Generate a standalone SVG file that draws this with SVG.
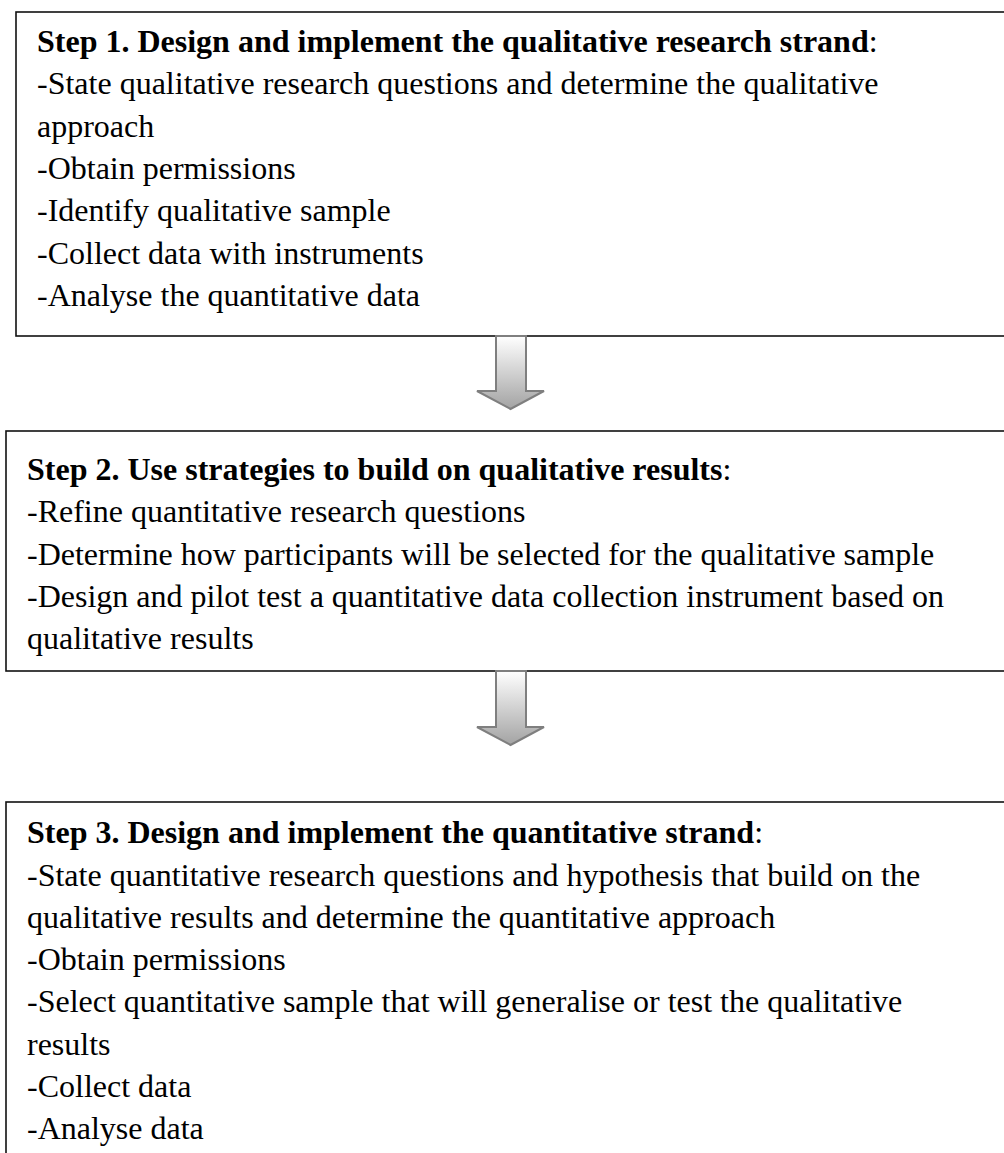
<svg xmlns="http://www.w3.org/2000/svg" width="1004" height="1153" viewBox="0 0 1004 1153">
  <style>
    .box { fill: #ffffff; stroke: #111111; stroke-width: 1.6; }
    text { font-family: "Liberation Serif", "Times New Roman", serif; font-size: 32px; fill: #000000; }
    .b { font-weight: bold; }
    .arrow { fill: url(#arrowFill); stroke: #7f7f7f; stroke-width: 2; stroke-linejoin: miter; }
  </style>
  <defs>
    <linearGradient id="arrowFill" x1="0" y1="0" x2="0" y2="1">
      <stop offset="0" stop-color="#ffffff"/>
      <stop offset="1" stop-color="#a3a3a3"/>
    </linearGradient>
  </defs>

  <rect width="1004" height="1153" fill="#ffffff"/>

  <!-- Step 1 (line step 42.3 = 1.15 x 1.15 x 32px) -->
  <g id="step1">
    <rect class="box" x="16" y="12" width="1000" height="324"/>
    <text x="37" y="52"><tspan class="b">Step 1. Design and implement the qualitative research strand</tspan>:</text>
    <text x="37" y="94.3">-State qualitative research questions and determine the qualitative</text>
    <text x="37" y="136.6">approach</text>
    <text x="37" y="178.9">-Obtain permissions</text>
    <text x="37" y="221.2">-Identify qualitative sample</text>
    <text x="37" y="263.5">-Collect data with instruments</text>
    <text x="37" y="305.8">-Analyse the quantitative data</text>
  </g>

  <!-- Step 2 -->
  <g id="step2">
    <rect class="box" x="6" y="431" width="1010" height="240"/>
    <text x="27" y="480"><tspan class="b">Step 2. Use strategies to build on qualitative results</tspan>:</text>
    <text x="27" y="522.3">-Refine quantitative research questions</text>
    <text x="27" y="564.6">-Determine how participants will be selected for the qualitative sample</text>
    <text x="27" y="606.9">-Design and pilot test a quantitative data collection instrument based on</text>
    <text x="27" y="649.2">qualitative results</text>
  </g>

  <!-- Step 3 -->
  <g id="step3">
    <rect class="box" x="6" y="802" width="1010" height="400"/>
    <text x="27" y="843.2"><tspan class="b">Step 3. Design and implement the quantitative strand</tspan>:</text>
    <text x="27" y="885.5">-State quantitative research questions and hypothesis that build on the</text>
    <text x="27" y="927.8">qualitative results and determine the quantitative approach</text>
    <text x="27" y="970.1">-Obtain permissions</text>
    <text x="27" y="1012.4">-Select quantitative sample that will generalise or test the qualitative</text>
    <text x="27" y="1054.7">results</text>
    <text x="27" y="1097">-Collect data</text>
    <text x="27" y="1139.3">-Analyse data</text>
  </g>

  <!-- block arrows between the steps -->
  <g id="connectors">
    <path class="arrow" d="M496,336 V391 H477 L510.5,409 L544,391 H526 V336 Z"/>
    <path class="arrow" d="M496,671 V727 H477 L510.5,745 L544,727 H526 V671 Z"/>
  </g>
</svg>
